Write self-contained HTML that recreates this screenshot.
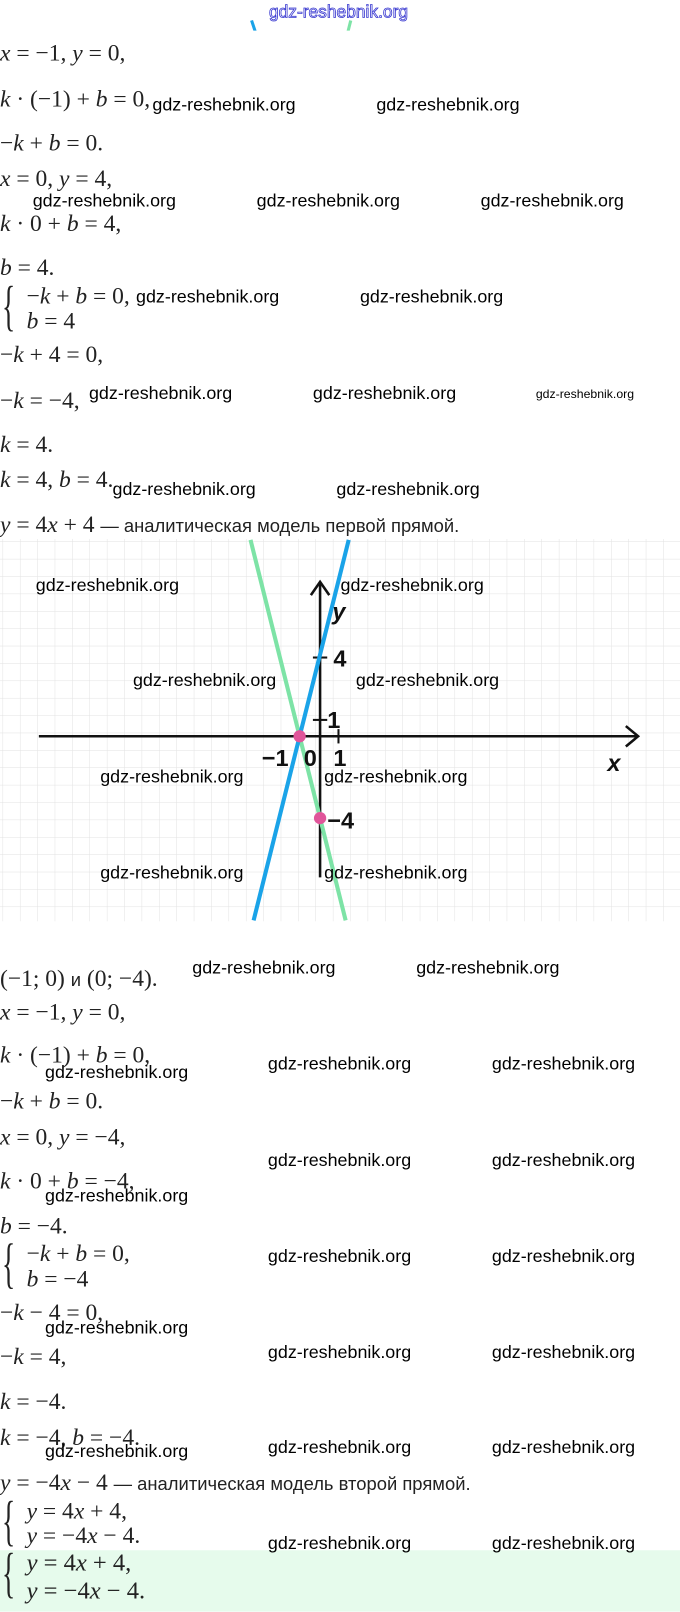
<!DOCTYPE html><html><head><meta charset="utf-8"><style>
body{margin:0;width:680px;height:1604px;position:relative;background:#fff;overflow:hidden}
#r{position:absolute;left:0;top:0;width:665px;height:1569px;transform:scale(1.0226);transform-origin:0 0}
.m{position:absolute;font-family:"Liberation Serif",serif;font-size:23px;color:#222;white-space:nowrap;line-height:1}
.m i{font-style:italic}
.w{position:absolute;font-family:"Liberation Sans",sans-serif;font-size:17.5px;color:#000;white-space:nowrap;line-height:1}
.t{font-family:"Liberation Sans",sans-serif;font-size:18px}
.br{position:absolute;font-family:"Liberation Serif",serif;font-size:54px;color:#222;line-height:1;transform:scaleX(0.5);transform-origin:left}
</style></head><body><div id="r">
<svg width="680" height="30" style="position:absolute;left:0;top:0">
<line x1="246" y1="20" x2="250" y2="32" stroke="#1aa3e8" stroke-width="3"/>
<line x1="343" y1="20" x2="340" y2="32" stroke="#7de3a6" stroke-width="3"/>
<text x="263" y="17" font-family="Liberation Sans" font-size="17" fill="#fff" stroke="#3a3ad0" stroke-width="0.8">gdz-reshebnik.org</text>
</svg>
<div class="m" style="left:0;top:40px"><i>x</i> = −1, <i>y</i> = 0,</div>
<div class="m" style="left:0;top:85px"><i>k</i> · (−1) + <i>b</i> = 0,</div>
<div class="m" style="left:0;top:128px">−<i>k</i> + <i>b</i> = 0.</div>
<div class="m" style="left:0;top:163px"><i>x</i> = 0, <i>y</i> = 4,</div>
<div class="m" style="left:0;top:207px"><i>k</i> · 0 + <i>b</i> = 4,</div>
<div class="m" style="left:0;top:250px"><i>b</i> = 4.</div>
<div class="br" style="left:2px;top:272px">{</div>
<div class="m" style="left:26px;top:278px">−<i>k</i> + <i>b</i> = 0,</div>
<div class="m" style="left:26px;top:302px"><i>b</i> = 4</div>
<div class="m" style="left:0;top:335px">−<i>k</i> + 4 = 0,</div>
<div class="m" style="left:0;top:380px">−<i>k</i> = −4,</div>
<div class="m" style="left:0;top:423px"><i>k</i> = 4.</div>
<div class="m" style="left:0;top:457px"><i>k</i> = 4, <i>b</i> = 4.</div>
<div class="m" style="left:0;top:501px"><i>y</i> = 4<i>x</i> + 4 <span class="t">— аналитическая модель первой прямой.</span></div>
<div class="w" style="left:149px;top:94px">gdz-reshebnik.org</div>
<div class="w" style="left:368px;top:94px">gdz-reshebnik.org</div>
<div class="w" style="left:32px;top:188px">gdz-reshebnik.org</div>
<div class="w" style="left:251px;top:188px">gdz-reshebnik.org</div>
<div class="w" style="left:470px;top:188px">gdz-reshebnik.org</div>
<div class="w" style="left:133px;top:282px">gdz-reshebnik.org</div>
<div class="w" style="left:352px;top:282px">gdz-reshebnik.org</div>
<div class="w" style="left:87px;top:376px">gdz-reshebnik.org</div>
<div class="w" style="left:306px;top:376px">gdz-reshebnik.org</div>
<div class="w" style="left:524px;top:379px;font-size:12px">gdz-reshebnik.org</div>
<div class="w" style="left:110px;top:470px">gdz-reshebnik.org</div>
<div class="w" style="left:329px;top:470px">gdz-reshebnik.org</div>
<svg width="680" height="374" style="position:absolute;left:0;top:527px">
<defs><pattern id="g" width="17" height="17" patternUnits="userSpaceOnUse" x="3" y="3"><path d="M17 0V17M0 17H17" stroke="#e2e2e2" stroke-width="1" fill="none"/></pattern></defs>
<rect x="0" y="0" width="665" height="374" fill="url(#g)"/>
<g transform="translate(0,-527)">
<line x1="38" y1="720" x2="624" y2="720" stroke="#111" stroke-width="2.5"/>
<polyline points="612,710 624,720 612,730" fill="none" stroke="#111" stroke-width="2.5"/>
<line x1="313" y1="858" x2="313" y2="569" stroke="#111" stroke-width="2.5"/>
<polyline points="304,582 313,569 322,582" fill="none" stroke="#111" stroke-width="2.5"/>
<line x1="306" y1="643" x2="320" y2="643" stroke="#111" stroke-width="2"/>
<line x1="306" y1="704" x2="320" y2="704" stroke="#111" stroke-width="2"/>
<line x1="331" y1="713" x2="331" y2="727" stroke="#111" stroke-width="2"/>
<line x1="245" y1="528" x2="338" y2="900" stroke="#7de3a6" stroke-width="4"/>
<line x1="341" y1="528" x2="248" y2="900" stroke="#1aa3e8" stroke-width="4"/>
<circle cx="293" cy="720" r="6" fill="#e0559a"/>
<circle cx="313" cy="800" r="6" fill="#e0559a"/>
<g font-family="Liberation Sans" font-size="23" font-weight="bold" fill="#111">
<text x="326" y="652">4</text><text x="320" y="712">1</text>
<text x="256" y="749">−1</text><text x="297" y="749">0</text><text x="326" y="749">1</text>
<text x="320" y="810">−4</text>
<text x="594" y="754" font-style="italic">x</text><text x="325" y="606" font-style="italic">y</text>
</g></g></svg>
<div class="w" style="left:35px;top:564px">gdz-reshebnik.org</div>
<div class="w" style="left:333px;top:564px">gdz-reshebnik.org</div>
<div class="w" style="left:130px;top:657px">gdz-reshebnik.org</div>
<div class="w" style="left:348px;top:657px">gdz-reshebnik.org</div>
<div class="w" style="left:98px;top:751px">gdz-reshebnik.org</div>
<div class="w" style="left:317px;top:751px">gdz-reshebnik.org</div>
<div class="w" style="left:98px;top:845px">gdz-reshebnik.org</div>
<div class="w" style="left:317px;top:845px">gdz-reshebnik.org</div>
<div class="m" style="left:0;top:945px">(−1; 0) <span class="t">и</span> (0; −4).</div>
<div class="m" style="left:0;top:978px"><i>x</i> = −1, <i>y</i> = 0,</div>
<div class="m" style="left:0;top:1020px"><i>k</i> · (−1) + <i>b</i> = 0,</div>
<div class="m" style="left:0;top:1065px">−<i>k</i> + <i>b</i> = 0.</div>
<div class="m" style="left:0;top:1100px"><i>x</i> = 0, <i>y</i> = −4,</div>
<div class="m" style="left:0;top:1143px"><i>k</i> · 0 + <i>b</i> = −4,</div>
<div class="m" style="left:0;top:1187px"><i>b</i> = −4.</div>
<div class="br" style="left:2px;top:1208px">{</div>
<div class="m" style="left:26px;top:1214px">−<i>k</i> + <i>b</i> = 0,</div>
<div class="m" style="left:26px;top:1239px"><i>b</i> = −4</div>
<div class="m" style="left:0;top:1272px">−<i>k</i> − 4 = 0,</div>
<div class="m" style="left:0;top:1315px">−<i>k</i> = 4,</div>
<div class="m" style="left:0;top:1359px"><i>k</i> = −4.</div>
<div class="m" style="left:0;top:1394px"><i>k</i> = −4, <i>b</i> = −4.</div>
<div class="m" style="left:0;top:1438px"><i>y</i> = −4<i>x</i> − 4 <span class="t">— аналитическая модель второй прямой.</span></div>
<div class="br" style="left:2px;top:1460px">{</div>
<div class="m" style="left:26px;top:1466px"><i>y</i> = 4<i>x</i> + 4,</div>
<div class="m" style="left:26px;top:1490px"><i>y</i> = −4<i>x</i> − 4.</div>
<div style="position:absolute;left:0;top:1516px;width:665px;height:60px;background:#e6fbec"></div>
<div class="br" style="left:2px;top:1511px">{</div>
<div class="m" style="left:26px;top:1517px;font-size:24px"><i>y</i> = 4<i>x</i> + 4,</div>
<div class="m" style="left:26px;top:1544px;font-size:24px"><i>y</i> = −4<i>x</i> − 4.</div>
<div class="w" style="left:188px;top:938px">gdz-reshebnik.org</div>
<div class="w" style="left:407px;top:938px">gdz-reshebnik.org</div>
<div class="w" style="left:44px;top:1040px">gdz-reshebnik.org</div>
<div class="w" style="left:262px;top:1032px">gdz-reshebnik.org</div>
<div class="w" style="left:481px;top:1032px">gdz-reshebnik.org</div>
<div class="w" style="left:262px;top:1126px">gdz-reshebnik.org</div>
<div class="w" style="left:481px;top:1126px">gdz-reshebnik.org</div>
<div class="w" style="left:44px;top:1161px">gdz-reshebnik.org</div>
<div class="w" style="left:262px;top:1220px">gdz-reshebnik.org</div>
<div class="w" style="left:481px;top:1220px">gdz-reshebnik.org</div>
<div class="w" style="left:44px;top:1290px">gdz-reshebnik.org</div>
<div class="w" style="left:262px;top:1314px">gdz-reshebnik.org</div>
<div class="w" style="left:481px;top:1314px">gdz-reshebnik.org</div>
<div class="w" style="left:44px;top:1411px">gdz-reshebnik.org</div>
<div class="w" style="left:262px;top:1407px">gdz-reshebnik.org</div>
<div class="w" style="left:481px;top:1407px">gdz-reshebnik.org</div>
<div class="w" style="left:262px;top:1501px">gdz-reshebnik.org</div>
<div class="w" style="left:481px;top:1501px">gdz-reshebnik.org</div>
</div></body></html>
